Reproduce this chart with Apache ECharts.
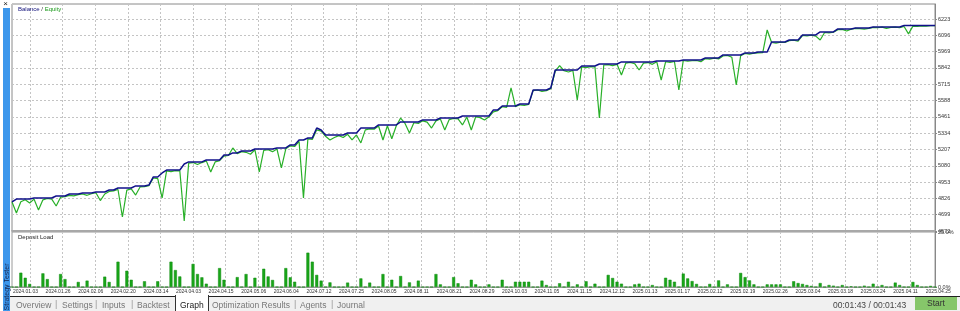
<!DOCTYPE html>
<html>
<head>
<meta charset="utf-8">
<script src="https://cdn.jsdelivr.net/npm/echarts@6/dist/echarts.min.js"></script>
<style>
html,body{margin:0;padding:0;background:#fff;}
#wrap{position:relative;width:960px;height:311px;overflow:hidden;background:#fff;font-family:"Liberation Sans",Arial,sans-serif;}
#chart{position:absolute;left:0;top:0;width:960px;height:296px;}
.strip{position:absolute;left:3px;top:8px;width:7px;height:303px;background:#3d97ec;}
.close{position:absolute;left:1px;top:0px;width:9px;height:8px;font-size:8px;line-height:8px;color:#222;text-align:center;}
.vt{position:absolute;left:6px;top:287px;transform:translate(-50%,-50%) rotate(-90deg);font-size:7px;color:#16264f;white-space:nowrap;}
.tabbar{position:absolute;left:10px;top:296px;width:950px;height:15px;background:#f0f0f0;border-top:1px solid #222;}
.tab{position:absolute;top:300px;font-size:8.5px;color:#777;white-space:nowrap;line-height:10px;}
.sep{position:absolute;top:299px;font-size:9px;color:#999;line-height:10px;}
.gtab{position:absolute;left:175px;top:295px;width:32px;height:16px;background:#fff;border-left:1px solid #333;border-right:1px solid #333;}
.timer{position:absolute;left:833px;top:300px;font-size:8.5px;color:#444;white-space:nowrap;line-height:10px;}
.start{position:absolute;left:915px;top:297px;width:42px;height:13px;background:#86c66a;color:#333;font-size:8.5px;line-height:13px;text-align:center;}
</style>
</head>
<body>
<div id="wrap">
<div id="chart"></div>
<div class="strip"></div>
<div class="close">×</div>
<div class="vt">Strategy Tester</div>
<div class="tabbar"></div>
<div class="gtab"></div>
<div class="tab" style="left:16px">Overview</div>
<div class="sep" style="left:55px">|</div>
<div class="tab" style="left:62px">Settings</div>
<div class="sep" style="left:95px">|</div>
<div class="tab" style="left:102px">Inputs</div>
<div class="sep" style="left:131px">|</div>
<div class="tab" style="left:137px">Backtest</div>
<div class="tab" style="left:180px;color:#222">Graph</div>
<div class="tab" style="left:212px">Optimization Results</div>
<div class="sep" style="left:294px">|</div>
<div class="tab" style="left:300px">Agents</div>
<div class="sep" style="left:331px">|</div>
<div class="tab" style="left:337px">Journal</div>
<div class="timer">00:01:43 / 00:01:43</div>
<div class="start">Start</div>
</div>
<script>
// ---- data ----
const balance = [
4798,4821,4821,4821,4821,4829,4829,4829,4829,4829,
4845,4845,4845,4860,4860,4860,4868,4868,4868,4876,
4876,4876,4891,4891,4907,4907,4907,4907,4923,4923,
4923,4930,4993,4993,5024,5047,5047,5047,5047,5094,
5110,5110,5110,5110,5125,5125,5125,5125,5164,5164,
5180,5180,5195,5195,5195,5211,5211,5211,5211,5211,
5219,5219,5219,5242,5242,5281,5281,5296,5296,5374,
5359,5320,5320,5320,5320,5320,5335,5335,5335,5374,
5374,5374,5374,5398,5398,5398,5398,5398,5421,5421,
5421,5421,5421,5437,5437,5437,5437,5452,5452,5452,
5452,5452,5468,5468,5468,5468,5468,5468,5468,5515,
5515,5546,5546,5546,5546,5561,5561,5561,5670,5670,
5670,5670,5686,5826,5826,5826,5826,5826,5826,5857,
5857,5857,5857,5873,5873,5873,5873,5873,5889,5889,
5889,5889,5889,5889,5889,5889,5896,5896,5896,5896,
5896,5896,5904,5904,5904,5904,5904,5920,5920,5920,
5920,5943,5943,5943,5943,5943,5959,5959,5959,5966,
5966,5966,6044,6044,6044,6044,6060,6060,6060,6099,
6099,6099,6099,6122,6122,6122,6122,6146,6146,6146,
6146,6153,6153,6153,6153,6161,6161,6161,6161,6161,
6161,6161,6172,6172,6172,6172,6172,6172,6172,6172
];
const equity = [
4798,4712,4800,4815,4790,4820,4736,4815,4825,4820,
4767,4835,4840,4850,4845,4855,4860,4850,4862,4870,
4809,4860,4880,4885,4895,4681,4890,4900,4852,4915,
4918,4925,4985,4980,4829,5040,5035,5042,5040,4650,
5100,5105,5090,5105,5118,5032,5110,5120,5155,5160,
5219,5175,5190,5185,5170,5205,5032,5200,5205,5190,
5210,5063,5212,5235,5230,5270,4829,5290,5285,5360,
5350,5310,5281,5300,5315,5300,5325,5281,5320,5258,
5360,5368,5365,5390,5281,5392,5290,5390,5452,5410,
5335,5415,5410,5430,5420,5374,5430,5445,5359,5440,
5448,5445,5398,5460,5359,5462,5455,5437,5462,5500,
5510,5540,5535,5686,5540,5555,5550,5558,5665,5670,
5660,5665,5680,5815,5860,5820,5810,5822,5592,5850,
5845,5852,5850,5452,5865,5868,5860,5870,5787,5880,
5885,5875,5826,5880,5884,5870,5890,5748,5890,5885,
5892,5670,5900,5895,5898,5900,5890,5915,5910,5918,
5912,5935,5940,5925,5709,5938,5955,5950,5957,5960,
5962,6138,6040,6035,6042,6040,6055,6058,6050,6095,
6092,6097,6090,6060,6118,6115,6120,6140,6142,6130,
6144,6150,6148,6145,6150,6158,6155,6160,6150,6158,
6160,6155,6165,6107,6168,6165,6170,6168,6172,6172
];
// deposit load: trade index -> percent
const loadIndex = [2,3,4,7,8,11,12,15,17,21,22,24,26,27,30,33,36,37,38,41,42,43,44,47,48,51,53,55,57,58,59,62,63,64,67,68,69,70,72,76,79,81,84,86,88,90,92,96,97,100,101,104,105,108,111,114,115,116,117,120,121,124,126,128,130,132,135,136,137,138,141,142,145,148,149,150,152,153,154,155,158,160,162,165,166,167,168,171,172,173,174,177,178,179,180,181,183,185,186,188,190,193,195,197,200,201,204,205,208];
const loadPct = [6.5,4.2,1.4,6.2,3.6,5.9,3.6,2.3,2.9,4.7,2.3,11.5,7.4,3.3,2.6,2.6,11.5,7.7,4.8,10.5,5.9,4.4,1.5,8.6,3.3,4.5,5.9,4.2,8.3,4.8,3.2,8.6,4.4,2.4,15.6,11.5,5.5,2.9,2.1,2.0,3.9,2.0,5.9,3.3,5.0,2.1,2.9,5.9,1.2,4.5,1.7,3.3,1.2,1.2,3.3,2.4,2.4,2.4,2.4,2.9,0.9,1.7,2.4,1.2,2.6,1.5,5.5,4.1,2.4,1.5,1.2,1.5,0.9,4.2,3.3,2.4,6.1,3.9,2.7,1.4,1.4,3.0,1.2,6.4,4.5,3.0,1.2,1.2,1.2,1.2,1.2,2.6,1.8,1.4,0.9,0.5,1.8,0.9,0.6,0.9,0.3,0.6,1.5,0.9,2.0,0.9,2.3,0.9,0.5];
const dateLabels = ["2024.01.03","2024.01.26","2024.02.06","2024.02.20","2024.03.14","2024.04.03","2024.04.15","2024.05.06","2024.06.04","2024.07.12","2024.07.25","2024.08.05","2024.08.11","2024.08.21","2024.08.29","2024.10.03","2024.11.05","2024.11.15","2024.12.12","2025.01.13","2025.01.17","2025.02.12","2025.02.19","2025.02.26","2025.03.04","2025.03.18","2025.03.24","2025.04.11","2025.04.25"];
const yMin = 4572, yMax = 6340, yStep = 127;
const loadMax = 25;

// ---- build ----
const cats = balance.map((_, i) => String(i + 1));
const loadData = cats.map(() => 0);
loadIndex.forEach((ix, k) => { loadData[ix] = loadPct[k]; });

const chart = echarts.init(document.getElementById('chart'), null, {renderer: 'canvas'});
const font = '"Liberation Sans", Arial, sans-serif';
const L = 12, W = 923;
chart.setOption({
  animation: false,
  backgroundColor: '#fff',
  textStyle: {fontFamily: font},
  title: [
    {left: 13, top: 1, text: '{b|Balance} / {e|Equity}', textStyle: {fontSize: 6, fontWeight: 'normal', color: '#333', rich: {b: {color: '#10107a', fontSize: 6}, e: {color: '#1a9a1a', fontSize: 6}}}},
    {left: 13, top: 229, text: 'Deposit Load', textStyle: {fontSize: 6, fontWeight: 'normal', color: '#222'}}
  ],
  grid: [
    {left: L, top: 4, width: W, height: 227, show: true, borderColor: '#8a8a8a', borderWidth: 1},
    {left: L, top: 232, width: W, height: 55, show: true, borderColor: '#9a9a9a', borderWidth: 1},
    {left: 13, top: 232, width: 912.8, height: 55},
    {left: 30, top: 4, width: 880.2, height: 283}
  ],
  xAxis: [
    {type: 'category', gridIndex: 0, data: cats, boundaryGap: false, axisLabel: {show: false}, axisTick: {show: false}, splitLine: {show: false}, axisLine: {lineStyle: {color: '#a8a8a8', width: 2}}},
    {type: 'category', gridIndex: 1, data: cats, boundaryGap: false, axisLabel: {show: false}, axisTick: {show: false}, splitLine: {show: false}, axisLine: {lineStyle: {color: '#9a9a9a', width: 1}}},
    {type: 'value', gridIndex: 2, min: 0, max: dateLabels.length - 1, interval: 1, axisLine: {show: false}, axisTick: {show: false}, splitLine: {show: false},
     axisLabel: {formatter: v => dateLabels[v] || '', fontSize: 5, color: '#333', align: 'left', margin: 2, hideOverlap: false}},
    {type: 'value', gridIndex: 3, min: 0, max: 27, interval: 1, axisLine: {show: false}, axisTick: {show: false}, axisLabel: {show: false},
     splitLine: {show: true, lineStyle: {color: '#c4c4c4', type: [2, 2], width: 1}}}
  ],
  yAxis: [
    {type: 'value', gridIndex: 0, position: 'right', min: yMin, max: yMax, interval: yStep,
     axisLine: {show: true, lineStyle: {color: '#888'}}, axisTick: {show: true, length: 2, lineStyle: {color: '#888'}},
     axisLabel: {fontSize: 5.5, color: '#333', margin: 3, showMaxLabel: false, formatter: v => String(v)},
     splitLine: {show: true, lineStyle: {color: '#c4c4c4', type: [2, 2]}}},
    {type: 'value', gridIndex: 1, position: 'right', min: 0, max: loadMax, interval: loadMax,
     axisLine: {show: true, lineStyle: {color: '#888'}}, axisTick: {show: true, length: 2, lineStyle: {color: '#888'}},
     axisLabel: {fontSize: 5.5, color: '#333', margin: 3, formatter: v => v.toFixed(1) + '%'},
     splitLine: {show: false}},
    {type: 'value', gridIndex: 2, show: false, min: 0, max: 1},
    {type: 'value', gridIndex: 3, show: false, min: 0, max: 1}
  ],
  series: [
    {name: 'Equity', type: 'line', xAxisIndex: 0, yAxisIndex: 0, data: equity, showSymbol: false, z: 3,
     lineStyle: {color: '#29b029', width: 1.2}, itemStyle: {color: '#29b029'}},
    {name: 'Balance', type: 'line', xAxisIndex: 0, yAxisIndex: 0, data: balance, showSymbol: false, z: 4,
     lineStyle: {color: '#10108a', width: 1.5}, itemStyle: {color: '#10108a'}},
    {name: 'Deposit Load', type: 'bar', xAxisIndex: 1, yAxisIndex: 1, data: loadData, barWidth: 3,
     itemStyle: {color: '#19a619', borderColor: '#0f8a0f', borderWidth: 0.5}}
  ]
});
</script>
</body>
</html>
